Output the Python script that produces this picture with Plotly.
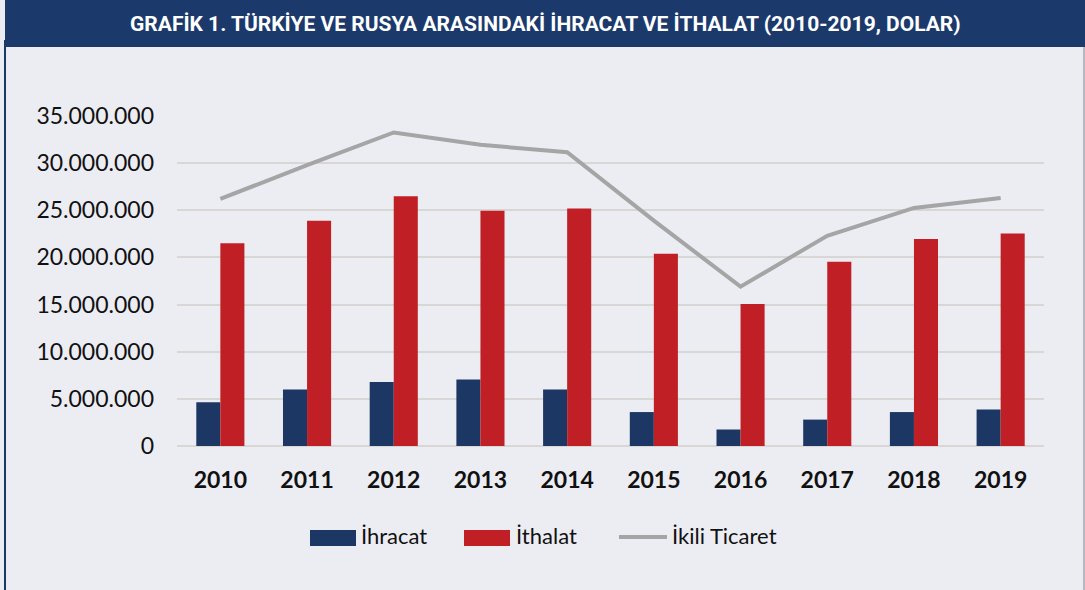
import plotly.graph_objects as go

years = ["2010", "2011", "2012", "2013", "2014", "2015", "2016", "2017", "2018", "2019"]
ihracat = [4.65e6, 6.0e6, 6.78e6, 7.05e6, 6.0e6, 3.6e6, 1.75e6, 2.8e6, 3.6e6, 3.88e6]
ithalat = [21.5e6, 23.9e6, 26.5e6, 24.95e6, 25.2e6, 20.4e6, 15.05e6, 19.55e6, 21.95e6, 22.55e6]
ikili = [26.2e6, 29.8e6, 33.25e6, 31.95e6, 31.15e6, 23.9e6, 16.9e6, 22.3e6, 25.25e6, 26.3e6]
yticks = [0, 5e6, 10e6, 15e6, 20e6, 25e6, 30e6, 35e6]
ytick_text = ["0", "5.000.000", "10.000.000", "15.000.000", "20.000.000", "25.000.000", "30.000.000", "35.000.000"]
series_names = ["İhracat", "İthalat", "İkili Ticaret"]

navy = "#1C3764"
red = "#C01F26"
grey = "#A5A5A5"
bg = "#ECEDF3"

L, T, W, H = 177, 116, 867, 330


def px(x):
    return (x - L) / W


def py(y):
    return (T + H - y) / H


fig = go.Figure()
fig.add_trace(go.Bar(x=years, y=ihracat, name=series_names[0], marker=dict(color=navy, line=dict(width=0))))
fig.add_trace(go.Bar(x=years, y=ithalat, name=series_names[1], marker=dict(color=red, line=dict(width=0))))
fig.add_trace(go.Scatter(x=years, y=ikili, name=series_names[2], mode="lines",
                         line=dict(color=grey, width=4)))

fig.update_layout(
    width=1085, height=590,
    margin=dict(l=L, r=1085 - L - W, t=T, b=590 - T - H),
    paper_bgcolor=bg, plot_bgcolor=bg,
    barmode="group", bargap=0.445, bargroupgap=0,
    font=dict(family="Lato, Open Sans, sans-serif", color="#111111"),
    xaxis=dict(tickfont=dict(size=23, family="Lato, sans-serif", weight="bold", color="#111111"),
               showgrid=False, showline=False, ticks="", ticklabelstandoff=18),
    yaxis=dict(range=[0, 35e6], tickvals=yticks, ticktext=ytick_text,
               tickfont=dict(size=23, family="Lato, sans-serif", color="#111111"),
               showgrid=True, gridcolor="#D9D7D6", gridwidth=2, zeroline=True,
               zerolinecolor="#D9D7D6", zerolinewidth=2, ticks="", ticklabelstandoff=22),
    showlegend=False,
)

# frame and title bar
fig.add_shape(type="line", xref="paper", yref="paper", x0=px(5), x1=px(5), y0=py(590), y1=py(40),
              line=dict(color=navy, width=2))
fig.add_shape(type="rect", xref="paper", yref="paper", x0=px(5), x1=px(1086), y0=py(47), y1=py(-5),
              line=dict(width=0), fillcolor="#1B3A6B")
fig.add_shape(type="line", xref="paper", yref="paper", x0=px(1084), x1=px(1084), y0=py(590), y1=py(47),
              line=dict(color="#B8B8C0", width=2))
fig.add_annotation(xref="paper", yref="paper", x=px(545), y=py(24),
                   text="<b>GRAFİK 1. TÜRKİYE VE RUSYA ARASINDAKİ İHRACAT VE İTHALAT (2010-2019, DOLAR)</b>",
                   showarrow=False, font=dict(family="Roboto, sans-serif", size=21, color="white"),
                   xanchor="center", yanchor="middle")

# custom legend
leg_y = 537
fig.add_shape(type="rect", xref="paper", yref="paper", x0=px(310), x1=px(356), y0=py(546), y1=py(530),
              line=dict(width=0), fillcolor=navy)
fig.add_shape(type="rect", xref="paper", yref="paper", x0=px(464), x1=px(510), y0=py(546), y1=py(530),
              line=dict(width=0), fillcolor=red)
fig.add_shape(type="line", xref="paper", yref="paper", x0=px(619), x1=px(667), y0=py(537), y1=py(537),
              line=dict(color=grey, width=4))
for name, xs in zip(series_names, [359, 514, 670]):
    fig.add_annotation(xref="paper", yref="paper", x=px(xs), y=py(leg_y - 2), text=name, showarrow=False,
                       xanchor="left", yanchor="middle",
                       font=dict(family="Lato, sans-serif", size=22, color="#111111"))

fig.write_html("out.html")
